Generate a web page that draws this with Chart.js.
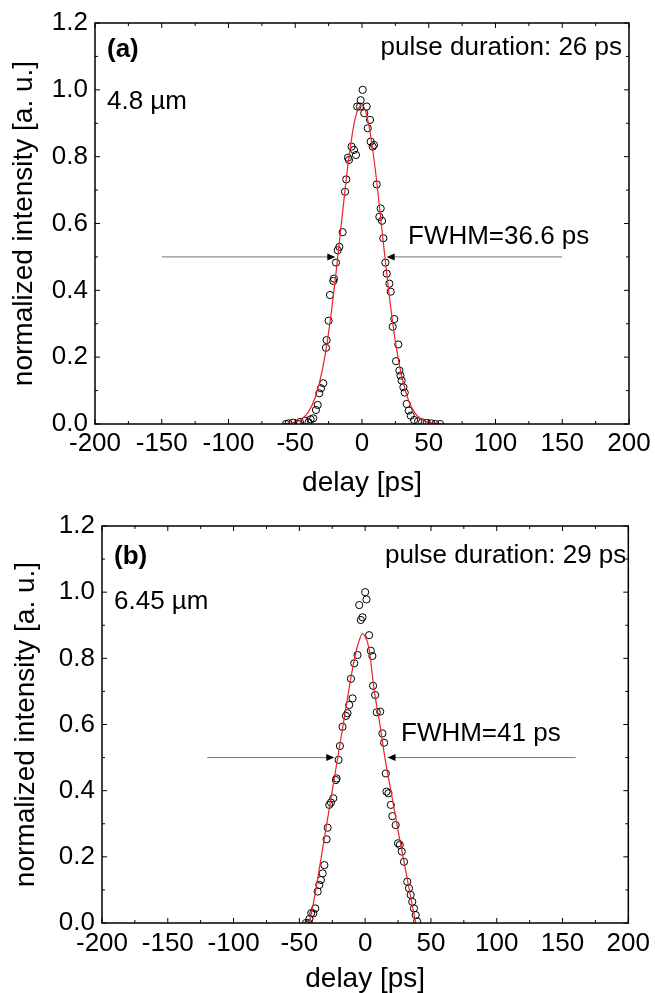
<!DOCTYPE html>
<html>
<head>
<meta charset="utf-8">
<script src="https://cdn.jsdelivr.net/npm/chart.js@4.4.1/dist/chart.umd.min.js"></script>
<style>
  html, body { margin: 0; padding: 0; background: #fff; }
  #wrap { position: relative; width: 655px; height: 993px; }
  .panel { position: absolute; left: 0; width: 655px; }
</style>
</head>
<body>
<div id="wrap">
  <div class="panel" style="top:0;height:497px"><canvas id="chartA"></canvas></div>
  <div class="panel" style="top:497px;height:496px"><canvas id="chartB"></canvas></div>
</div>
<script>
// panel (a): 4.8 um
const delayA = [-57, -55, -51.7, -48, -46.5, -42.7, -40, -38.5, -36.5, -34.5, -33.2, -32, -30.7, -29, -27, -26.5,
  -25, -24, -21.5, -21, -19.5, -18.2, -17, -14.5, -12.7, -11.8, -10.5, -9.8, -7.8, -6, -4.5, -3.6, -1.5, -1,
  0.5, 1.7, 3.5, 4.3, 6, 6.5, 8, 9, 11, 13, 14, 15, 16, 17.5, 18.5, 20.5, 21.5, 23, 24.2, 25.5, 27.2, 28,
  28.8, 29.7, 31, 32, 33.5, 35, 36.5, 39, 42, 45, 48.5, 52, 55, 58.5];
const intensityA = [0.0, 0.002, 0.004, 0.0, 0.006, 0.01, 0.005, 0.014, 0.017, 0.042, 0.057, 0.092, 0.107, 0.122, 0.228, 0.251,
  0.309, 0.386, 0.428, 0.435, 0.483, 0.52, 0.53, 0.574, 0.695, 0.732, 0.797, 0.79, 0.83, 0.82, 0.805, 0.95, 0.95, 0.969,
  1.0, 0.93, 0.95, 0.885, 0.91, 0.845, 0.83, 0.835, 0.717, 0.62, 0.645, 0.608, 0.556, 0.483, 0.45, 0.42, 0.396, 0.291, 0.314, 0.188, 0.238, 0.16,
  0.145, 0.13, 0.11, 0.094, 0.06, 0.04, 0.025, 0.012, 0.008, 0.005, 0.003, 0.002, 0.0, 0.0];
const fitDelayA = [-60, -55, -50, -45, -40, -35, -30, -25, -20, -15, -10, -5, 0, 5, 10, 15, 20, 25, 30, 35, 40, 45, 50, 55, 60];
const fitA = [0.001, 0.002, 0.006, 0.015, 0.037, 0.080, 0.156, 0.274, 0.433, 0.617, 0.792, 0.916, 0.955, 0.897, 0.760,
  0.579, 0.398, 0.247, 0.138, 0.069, 0.031, 0.013, 0.005, 0.002, 0.0];

// panel (b): 6.45 um
const delayB = [-45, -43, -42.4, -41, -39.4, -37.9, -36.1, -34.8, -33.6, -32.3, -31, -29.3, -28.5, -27.3, -26, -24.2,
  -22.2, -21.7, -20.2, -19.2, -17.2, -14.6, -13.4, -12.1, -10.8, -9.6, -8.3, -5.8, -4.5, -3.3, -2, 0, 1, 3,
  4.3, 5.5, 6, 7.6, 8.8, 11.4, 13.1, 14.4, 15.7, 16.2, 17.7, 19.5, 20.7, 23.2, 25, 26.3, 27.8, 29.5, 32, 33.3,
  34.6, 35.8, 37.1, 38.4, 39.5];
const intensityB = [0.0, 0.0, 0.012, 0.03, 0.029, 0.044, 0.095, 0.115, 0.13, 0.15, 0.175, 0.253, 0.288, 0.357, 0.364, 0.377,
  0.432, 0.437, 0.493, 0.535, 0.593, 0.626, 0.634, 0.659, 0.738, 0.679, 0.785, 0.81, 0.961, 0.916, 0.924, 1.0, 0.978, 0.87,
  0.823, 0.807, 0.717, 0.689, 0.637, 0.639, 0.573, 0.545, 0.452, 0.397, 0.392, 0.357, 0.323, 0.296, 0.241, 0.236, 0.216, 0.185, 0.125, 0.105,
  0.085, 0.064, 0.044, 0.024, 0.005];
const fitDelayB = [-42.5, -40, -35, -30, -25, -20, -15, -10, -6, -4, -2, 0, 2, 4, 6, 8, 10, 15, 20, 25, 30, 35, 38.5];
const fitB = [0.0, 0.045, 0.16, 0.28, 0.40, 0.52, 0.64, 0.76, 0.835, 0.86, 0.875, 0.865, 0.845, 0.80, 0.73, 0.675,
  0.63, 0.50, 0.39, 0.28, 0.175, 0.07, 0.0];

const xTicks = [-200, -150, -100, -50, 0, 50, 100, 150, 200];
const yTicks = [0, 0.2, 0.4, 0.6, 0.8, 1.0, 1.2];

const FONT = "'Liberation Sans', Arial, sans-serif";

function toPoints(xs, ys) {
  return xs.map((x, i) => ({ x: x, y: ys[i] }));
}

// frame with inward major/minor ticks, text notes and FWHM arrows
const decorate = {
  id: 'decorate',
  afterDraw(chart, args, opts) {
    const { ctx, chartArea: a, scales: { x, y } } = chart;
    ctx.save();
    ctx.strokeStyle = '#000';
    ctx.lineWidth = 1.5;
    ctx.strokeRect(a.left, a.top, a.right - a.left, a.bottom - a.top);

    ctx.lineWidth = 1;
    const tickSet = (vals) => {
      const out = vals.map(v => ({ v: v, len: 5 }));
      for (let i = 0; i < vals.length - 1; i++) out.push({ v: (vals[i] + vals[i + 1]) / 2, len: 3 });
      return out;
    };
    ctx.beginPath();
    tickSet(xTicks).forEach(t => {
      const px = x.getPixelForValue(t.v);
      ctx.moveTo(px, a.bottom); ctx.lineTo(px, a.bottom - t.len);
      ctx.moveTo(px, a.top); ctx.lineTo(px, a.top + t.len);
    });
    tickSet(yTicks).forEach(t => {
      const py = y.getPixelForValue(t.v);
      ctx.moveTo(a.left, py); ctx.lineTo(a.left + t.len, py);
      ctx.moveTo(a.right, py); ctx.lineTo(a.right - t.len, py);
    });
    ctx.stroke();

    // arrows
    (opts.arrows || []).forEach(ar => {
      const py = y.getPixelForValue(ar.y);
      const x0 = x.getPixelForValue(ar.from);
      const x1 = x.getPixelForValue(ar.to);
      const dir = x1 > x0 ? 1 : -1;
      ctx.strokeStyle = '#777';
      ctx.lineWidth = 1;
      ctx.beginPath();
      ctx.moveTo(x0, py); ctx.lineTo(x1 - dir * 6, py);
      ctx.stroke();
      ctx.fillStyle = '#000';
      ctx.beginPath();
      ctx.moveTo(x1, py);
      ctx.lineTo(x1 - dir * 8, py - 3.5);
      ctx.lineTo(x1 - dir * 8, py + 3.5);
      ctx.closePath();
      ctx.fill();
    });

    // text notes
    ctx.fillStyle = '#000';
    ctx.textBaseline = 'middle';
    (opts.notes || []).forEach(n => {
      ctx.font = (n.bold ? 'bold ' : '') + '26px ' + FONT;
      if (n.right) {
        ctx.textAlign = 'right';
        ctx.fillText(n.text, a.right - n.dx, a.top + n.dy);
      } else {
        ctx.textAlign = 'left';
        ctx.fillText(n.text, a.left + n.dx, a.top + n.dy);
      }
    });
    ctx.restore();
  }
};

function makeChart(id, cfg) {
  return new Chart(document.getElementById(id), {
    type: 'scatter',
    data: {
      datasets: [{
        data: toPoints(cfg.fitX, cfg.fitY),
        showLine: true,
        borderColor: '#e8232a',
        borderWidth: 1.2,
        pointRadius: 0,
        cubicInterpolationMode: 'monotone',
        fill: false
      }, {
        data: toPoints(cfg.dataX, cfg.dataY),
        showLine: false,
        pointStyle: 'circle',
        pointRadius: 3.6,
        pointBorderWidth: 1,
        pointBorderColor: '#000',
        pointBackgroundColor: 'rgba(0,0,0,0)'
      }]
    },
    options: {
      responsive: true,
      maintainAspectRatio: false,
      animation: false,
      layout: { padding: { top: cfg.padTop, right: cfg.padRight, left: 0, bottom: 0 } },
      plugins: {
        legend: { display: false },
        tooltip: { enabled: false },
        decorate: { notes: cfg.notes, arrows: cfg.arrows }
      },
      scales: {
        x: {
          type: 'linear',
          min: -200,
          max: 200,
          afterBuildTicks: (s) => { s.ticks = xTicks.map(v => ({ value: v })); },
          afterFit: (s) => { s.height = cfg.xHeight; },
          grid: { display: false, drawTicks: false },
          border: { display: false },
          ticks: {
            autoSkip: false,
            maxRotation: 0,
            padding: cfg.xPad,
            color: '#000',
            font: { family: FONT, size: 26 }
          },
          title: {
            display: true,
            text: 'delay [ps]',
            color: '#000',
            font: { family: FONT, size: 28, lineHeight: 1.0 },
            padding: { top: 0, bottom: 0 }
          }
        },
        y: {
          min: 0,
          max: 1.2,
          afterBuildTicks: (s) => { s.ticks = yTicks.map(v => ({ value: v })); },
          afterFit: (s) => { s.width = cfg.yWidth; },
          grid: { display: false, drawTicks: false },
          border: { display: false },
          ticks: {
            padding: 7,
            color: '#000',
            font: { family: FONT, size: 26 },
            callback: (v) => Number(v).toFixed(1)
          },
          title: {
            display: true,
            text: 'normalized intensity [a. u.]',
            color: '#000',
            font: { family: FONT, size: 28, lineHeight: 1.0 },
            padding: { top: cfg.yTitlePad, bottom: 0 }
          }
        }
      }
    },
    plugins: [decorate]
  });
}

makeChart('chartA', {
  dataX: delayA, dataY: intensityA, fitX: fitDelayA, fitY: fitA,
  padTop: 23, padRight: 26, xHeight: 73, yWidth: 95, xPad: 4, yTitlePad: 10,
  notes: [
    { text: '(a)', dx: 12, dy: 27, bold: true },
    { text: '4.8 µm', dx: 12, dy: 79 },
    { text: 'pulse duration: 26 ps', dx: 7, dy: 25, right: true },
    { text: 'FWHM=36.6 ps', dx: 313, dy: 214 }
  ],
  arrows: [
    { y: 0.5, from: -150, to: -20 },
    { y: 0.5, from: 150, to: 18.5 }
  ]
});

makeChart('chartB', {
  dataX: delayB, dataY: intensityB, fitX: fitDelayB, fitY: fitB,
  padTop: 29, padRight: 25, xHeight: 70, yWidth: 102, xPad: 5, yTitlePad: 12,
  notes: [
    { text: '(b)', dx: 12, dy: 31, bold: true },
    { text: '6.45 µm', dx: 12, dy: 76 },
    { text: 'pulse duration: 29 ps', dx: 2, dy: 30, right: true },
    { text: 'FWHM=41 ps', dx: 299, dy: 208 }
  ],
  arrows: [
    { y: 0.5, from: -120, to: -23.5 },
    { y: 0.5, from: 160, to: 17 }
  ]
});
</script>
</body>
</html>
